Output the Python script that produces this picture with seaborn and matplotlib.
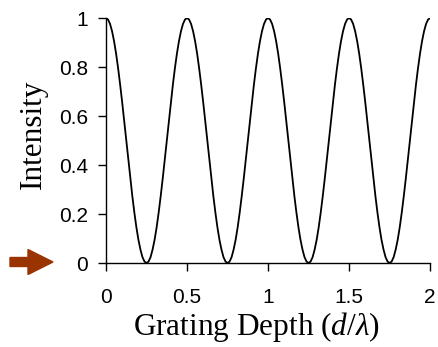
import matplotlib
matplotlib.use("Agg")
import matplotlib.pyplot as plt
import seaborn as sns
import pandas as pd
from matplotlib.patches import FancyArrow

# Grating depth (d/lambda) samples and intensity
depth = [round(0.0125 * k, 4) for k in range(161)]
half_period = [1.0, 0.994, 0.976, 0.946, 0.905, 0.854, 0.794, 0.727, 0.655, 0.578,
               0.5, 0.422, 0.345, 0.273, 0.206, 0.146, 0.095, 0.055, 0.024, 0.006]
one_period = half_period + [0.0] + half_period[:0:-1]
intensity = one_period * 4 + [1.0]

x_ticks = [0, 0.5, 1, 1.5, 2]
x_tick_labels = ["0", "0.5", "1", "1.5", "2"]
y_ticks = [0, 0.2, 0.4, 0.6, 0.8, 1]
y_tick_labels = ["0", "0.2", "0.4", "0.6", "0.8", "1"]

df = pd.DataFrame({"depth": depth, "intensity": intensity})

sns.set_style("ticks")
plt.rcParams["mathtext.fontset"] = "custom"
plt.rcParams["mathtext.it"] = "Liberation Serif:italic"
plt.rcParams["mathtext.rm"] = "Liberation Serif"
plt.rcParams["text.color"] = "black"
plt.rcParams["axes.labelcolor"] = "black"
plt.rcParams["xtick.color"] = "black"
plt.rcParams["ytick.color"] = "black"

fig = plt.figure(figsize=(4.38, 3.47), dpi=100)
ax = fig.add_axes([0.242, 0.242, 0.740, 0.706])
sns.lineplot(data=df, x="depth", y="intensity", color="black", linewidth=1.3, ax=ax)

ax.set_xlim(0, 2)
ax.set_ylim(0, 1)
ax.set_xticks(x_ticks)
ax.set_xticklabels(x_tick_labels)
ax.set_yticks(y_ticks)
ax.set_yticklabels(y_tick_labels)
for lbl in ax.get_xticklabels() + ax.get_yticklabels():
    lbl.set_family(["Liberation Sans", "DejaVu Sans"])
    lbl.set_fontsize(15)
    lbl.set_color("black")
ax.tick_params(direction="out", length=6, width=1, colors="black", pad=7)
ax.tick_params(axis="x", pad=12)
sns.despine(ax=ax)
for s in ["left", "bottom"]:
    ax.spines[s].set_linewidth(1)
    ax.spines[s].set_color("black")

ax.set_xlabel(r"Grating Depth ($d$/$\lambda$)", family="Liberation Serif", fontsize=22.5, color="black")
ax.set_ylabel("Intensity", family="Liberation Serif", fontsize=22.5, color="black")
ax.xaxis.set_label_coords(0.463, -0.19)
ax.yaxis.set_label_coords(-0.18, 0.527)

arrow = FancyArrow(10 / 438, 1 - 262 / 347, 18 / 438, 0, width=9 / 347,
                   head_width=25 / 347, head_length=25 / 438,
                   length_includes_head=False, color="#993300",
                   transform=fig.transFigure, figure=fig)
fig.patches.append(arrow)

fig.savefig("out.png", dpi=100)
